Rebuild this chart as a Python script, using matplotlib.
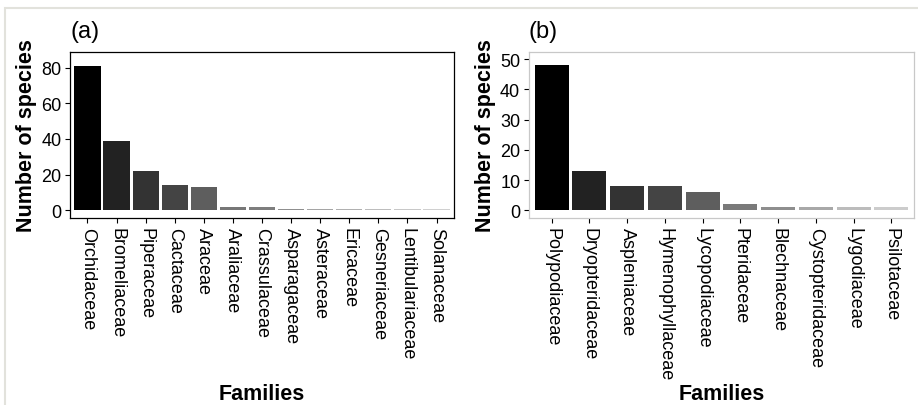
import matplotlib.pyplot as plt
from matplotlib.patches import Rectangle

plt.rcParams["font.family"] = ["Liberation Sans", "DejaVu Sans"]

# (a) angiosperm families
families_a = ["Orchidaceae", "Bromeliaceae", "Piperaceae", "Cactaceae", "Araceae",
              "Araliaceae", "Crassulaceae", "Asparagaceae", "Asteraceae", "Ericaceae",
              "Gesneriaceae", "Lentibulariaceae", "Solanaceae"]
species_a = [81, 39, 22, 14, 13, 2, 2, 1, 1, 1, 1, 1, 1]
grays_a = ["#000000", "#222222", "#333333", "#444444", "#5e5e5e", "#777777", "#7e7e7e",
           "#8f8f8f", "#a5a5a5", "#b0b0b0", "#bdbdbd", "#c8c8c8", "#d0d0d0"]

# (b) fern and lycophyte families
families_b = ["Polypodiaceae", "Dryopteridaceae", "Aspleniaceae", "Hymenophyllaceae",
              "Lycopodiaceae", "Pteridaceae", "Blechnaceae", "Cystopteridaceae",
              "Lygodiaceae", "Psilotaceae"]
species_b = [48, 13, 8, 8, 6, 2, 1, 1, 1, 1]
grays_b = ["#000000", "#222222", "#333333", "#444444", "#5e5e5e", "#7a7a7a", "#8e8e8e",
           "#a8a8a8", "#bcbcbc", "#cccccc"]

fig = plt.figure(figsize=(9.18, 4.06), dpi=100)

# light frame around the whole figure
fig.patches.append(Rectangle((5 / 918, -0.1), 1.2, 1 - 8.5 / 406 + 0.1,
                             transform=fig.transFigure, fill=False,
                             edgecolor="#e2e2dc", linewidth=1.5))


def panel(rect, names, values, colors, ylim, yticks, tag, frame):
    ax = fig.add_axes(rect)
    x = range(len(names))
    ax.bar(x, values, width=0.9, color=colors, edgecolor="none")
    ax.set_xlim(-0.6, len(names) - 0.4)
    ax.set_ylim(*ylim)
    ax.set_yticks(yticks)
    ax.set_xticks(list(x))
    ax.set_xticklabels(names, rotation=270, ha="center", va="top", fontsize=13)
    ax.tick_params(axis="y", labelsize=13, length=3.3, width=0.8, pad=3)
    ax.tick_params(axis="x", length=3.3, width=0.8, pad=3.5)
    for s in ax.spines.values():
        s.set_color(frame)
        s.set_linewidth(0.9)
    ax.set_ylabel("Number of species", fontsize=15.5, fontweight="bold", labelpad=3)
    ax.set_xlabel("Families", fontsize=15.5, fontweight="bold")
    ax.xaxis.set_label_coords(0.5, -0.995)
    ax.text(0.0, 1.06, tag, transform=ax.transAxes, fontsize=17, va="bottom", ha="left")
    return ax


panel([70 / 918, 187 / 406, 384 / 918, 166 / 406], families_a, species_a, grays_a,
      (-4.3, 88.7), [0, 20, 40, 60, 80], "(a)", "black")
panel([529 / 918, 187 / 406, 385 / 918, 166 / 406], families_b, species_b, grays_b,
      (-2.5, 52.4), [0, 10, 20, 30, 40, 50], "(b)", "#c8c8c8")

fig.savefig("out.png", dpi=100)
